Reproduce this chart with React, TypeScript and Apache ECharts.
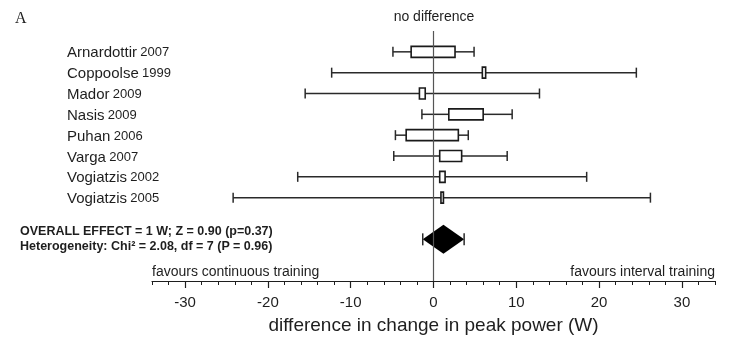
import React, { useEffect, useRef } from "react";
import * as echarts from "echarts";

const studyNames = ["Arnardottir", "Coppoolse", "Mador", "Nasis", "Puhan", "Varga", "Vogiatzis", "Vogiatzis"];
const studyYears = ["2007", "1999", "2009", "2009", "2006", "2007", "2002", "2005"];
const whiskerLow = [-4.9, -12.3, -15.5, -1.4, -4.6, -4.8, -16.4, -24.2];
const boxLow = [-2.7, 5.9, -1.7, 1.85, -3.3, 0.75, 0.75, 0.9];
const boxHigh = [2.6, 6.3, -1.0, 6.0, 3.0, 3.4, 1.4, 1.2];
const whiskerHigh = [4.9, 24.5, 12.8, 9.5, 4.2, 8.9, 18.5, 26.2];

const overallLow = -1.3;
const overallMean = 1.2;
const overallHigh = 3.7;
const overallRow = 9;

const majorTicks = [-30, -20, -10, 0, 10, 20, 30];
const minorTicks = Array.from({ length: 35 }, (_, i) => -34 + i * 2);

const FONT = "Liberation Sans, Arial, sans-serif";
const INK = "#1e1e1e";

export default function App() {
  const ref = useRef<HTMLDivElement>(null);
  useEffect(() => {
    const chart = echarts.init(ref.current!, null, { renderer: "svg" });
    const rows = studyNames.map((_, i) => [i, whiskerLow[i], boxLow[i], boxHigh[i], whiskerHigh[i]]);
    chart.setOption({
      animation: false,
      grid: { left: 152, right: 16, top: 31, bottom: 57 },
      xAxis: [
        {
          type: "value",
          min: -34,
          max: 34,
          interval: 2,
          position: "bottom",
          splitLine: { show: false },
          axisLine: { show: true, onZero: false, lineStyle: { color: INK, width: 1.2 } },
          axisTick: { show: true, length: 4, lineStyle: { color: INK, width: 1 }, customValues: minorTicks },
          axisLabel: { show: false },
        },
        {
          type: "value",
          min: -34,
          max: 34,
          position: "bottom",
          splitLine: { show: false },
          axisLine: { show: false, onZero: false },
          axisTick: { show: true, length: 7, lineStyle: { color: INK, width: 1.2 }, customValues: majorTicks },
          axisLabel: {
            show: true,
            customValues: majorTicks,
            margin: 13,
            color: INK,
            fontSize: 15,
            fontFamily: FONT,
          },
          name: "difference in change in peak power (W)",
          nameLocation: "middle",
          nameGap: 34,
          nameTextStyle: { color: INK, fontSize: 19, fontFamily: FONT },
        },
      ],
      yAxis: {
        type: "value",
        min: -1,
        max: 11,
        interval: 1,
        inverse: true,
        axisLine: { show: false },
        axisTick: { show: false },
        splitLine: { show: false },
        axisLabel: {
          show: true,
          align: "left",
          margin: 85,
          formatter: (v: number) =>
            studyNames[v] !== undefined && Number.isInteger(v) ? `{n|${studyNames[v]}} {y|${studyYears[v]}}` : "",
          rich: {
            n: { fontSize: 15, fontFamily: FONT, color: INK },
            y: { fontSize: 13, fontFamily: FONT, color: INK },
          },
        },
      },
      graphic: [
        { type: "text", x: 15, y: 17, style: { text: "A", font: "16px 'Liberation Serif', 'Times New Roman', serif", fill: INK, verticalAlign: "middle" } },
        { type: "text", x: 434, y: 16, style: { text: "no difference", font: `14px ${FONT}`, fill: INK, align: "center", verticalAlign: "middle" } },
        { type: "text", x: 20, y: 231, style: { text: "OVERALL EFFECT = 1 W; Z = 0.90 (p=0.37)", font: `bold 12.5px ${FONT}`, fill: INK, verticalAlign: "middle" } },
        { type: "text", x: 20, y: 246, style: { text: "Heterogeneity: Chi² = 2.08, df = 7 (P = 0.96)", font: `bold 12.5px ${FONT}`, fill: INK, verticalAlign: "middle" } },
        { type: "text", x: 152, y: 271, style: { text: "favours continuous training", font: `14px ${FONT}`, fill: INK, verticalAlign: "middle" } },
        { type: "text", x: 715, y: 271, style: { text: "favours interval training", font: `14px ${FONT}`, fill: INK, align: "right", verticalAlign: "middle" } },
      ],
      series: [
        {
          type: "custom",
          xAxisIndex: 0,
          data: rows,
          renderItem: (params: any, api: any) => {
            const row = api.value(0);
            const wl = api.coord([api.value(1), row]);
            const bl = api.coord([api.value(2), row]);
            const bh = api.coord([api.value(3), row]);
            const wh = api.coord([api.value(4), row]);
            const y = wl[1];
            const cap = 5;
            const bh2 = 5.5;
            const ls = { stroke: "#2a2a2a", lineWidth: 1.5 };
            return {
              type: "group",
              children: [
                { type: "line", shape: { x1: wl[0], y1: y, x2: bl[0], y2: y }, style: ls },
                { type: "line", shape: { x1: bh[0], y1: y, x2: wh[0], y2: y }, style: ls },
                { type: "line", shape: { x1: wl[0], y1: y - cap, x2: wl[0], y2: y + cap }, style: ls },
                { type: "line", shape: { x1: wh[0], y1: y - cap, x2: wh[0], y2: y + cap }, style: ls },
                {
                  type: "rect",
                  shape: { x: bl[0], y: y - bh2, width: bh[0] - bl[0], height: bh2 * 2 },
                  style: { fill: "#fff", stroke: "#1a1a1a", lineWidth: 1.6 },
                },
              ],
            };
          },
          markLine: {
            silent: true,
            symbol: "none",
            label: { show: false },
            lineStyle: { color: "#555", width: 1.2, type: "solid" },
            data: [{ xAxis: 0 }],
          },
          z: 3,
        },
        {
          type: "custom",
          xAxisIndex: 0,
          data: [[overallRow, overallLow, overallMean, overallHigh]],
          renderItem: (params: any, api: any) => {
            const row = api.value(0);
            const l = api.coord([api.value(1), row]);
            const m = api.coord([api.value(2), row]);
            const h = api.coord([api.value(3), row]);
            const y = l[1];
            const half = 14.5;
            const ls = { stroke: "#2a2a2a", lineWidth: 1.5 };
            return {
              type: "group",
              children: [
                {
                  type: "polygon",
                  shape: { points: [[l[0], y], [m[0], y - half], [h[0], y], [m[0], y + half]] },
                  style: { fill: "#000" },
                },
                { type: "line", shape: { x1: l[0], y1: y - 6, x2: l[0], y2: y + 6 }, style: ls },
                { type: "line", shape: { x1: h[0], y1: y - 6, x2: h[0], y2: y + 6 }, style: ls },
              ],
            };
          },
          z: 4,
        },
      ],
    });
    return () => chart.dispose();
  }, []);
  return <div ref={ref} style={{ position: "fixed", left: 0, top: 0, width: 731, height: 339 }} />;
}
